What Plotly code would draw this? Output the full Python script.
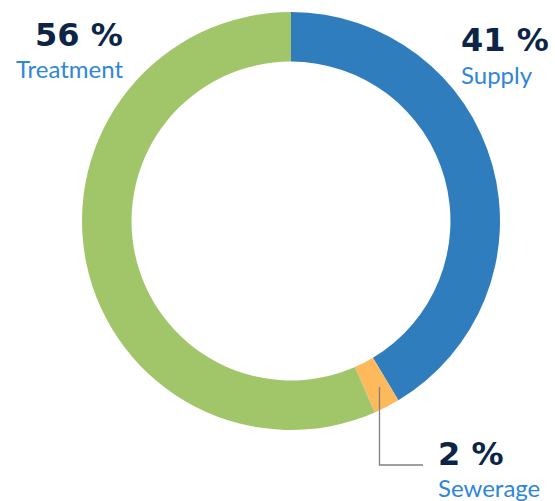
import plotly.graph_objects as go

W, H = 555, 501

categories = ["Supply", "Sewerage", "Treatment"]
values = [41, 2, 56]
pct_labels = ["41 %", "2 %", "56 %"]
colors = ["#2f7dbd", "#fdb95c", "#a1c66a"]

def px(x):
    return x / W

def py(y):
    return 1 - y / H

fig = go.Figure(go.Pie(
    labels=categories,
    values=values,
    sort=False,
    direction="clockwise",
    rotation=0,
    hole=0.763,
    textinfo="none",
    hoverinfo="label+percent",
    marker=dict(colors=colors, line=dict(width=0)),
    domain=dict(x=[px(82), px(500)], y=[py(430), py(12)]),
    showlegend=False,
))

NAVY = "#0b2447"
LBLUE = "#2f86d8"
BIG = dict(family="DejaVu Sans", size=32, color=NAVY, weight="bold")
SMALL = dict(family="Lato, Open Sans, sans-serif", size=24, color=LBLUE)

ann = [
    # Treatment (right aligned)
    dict(x=px(125), y=py(35), text=pct_labels[2], xanchor="right", font=BIG),
    dict(x=px(125), y=py(69), text=categories[2], xanchor="right", font=SMALL),
    # Supply (left aligned)
    dict(x=px(459), y=py(40), text=pct_labels[0], xanchor="left", font=BIG),
    dict(x=px(459), y=py(74), text=categories[0], xanchor="left", font=SMALL),
    # Sewerage
    dict(x=px(436), y=py(454), text=pct_labels[1], xanchor="left", font=BIG),
    dict(x=px(436), y=py(487), text=categories[1], xanchor="left", font=SMALL),
]
for a in ann:
    a.update(xref="paper", yref="paper", yanchor="middle", showarrow=False)

fig.update_layout(
    width=W, height=H,
    margin=dict(l=0, r=0, t=0, b=0),
    paper_bgcolor="white",
    plot_bgcolor="white",
    annotations=ann,
    shapes=[
        dict(type="path", xref="paper", yref="paper",
             path=f"M {px(379.5)},{py(387)} L {px(379.5)},{py(465)} L {px(423)},{py(465)}",
             line=dict(color="#7f7f86", width=1.3)),
    ],
)

fig.write_html("out.html", config={"displayModeBar": False},
               post_script="document.body.style.margin='0';")
